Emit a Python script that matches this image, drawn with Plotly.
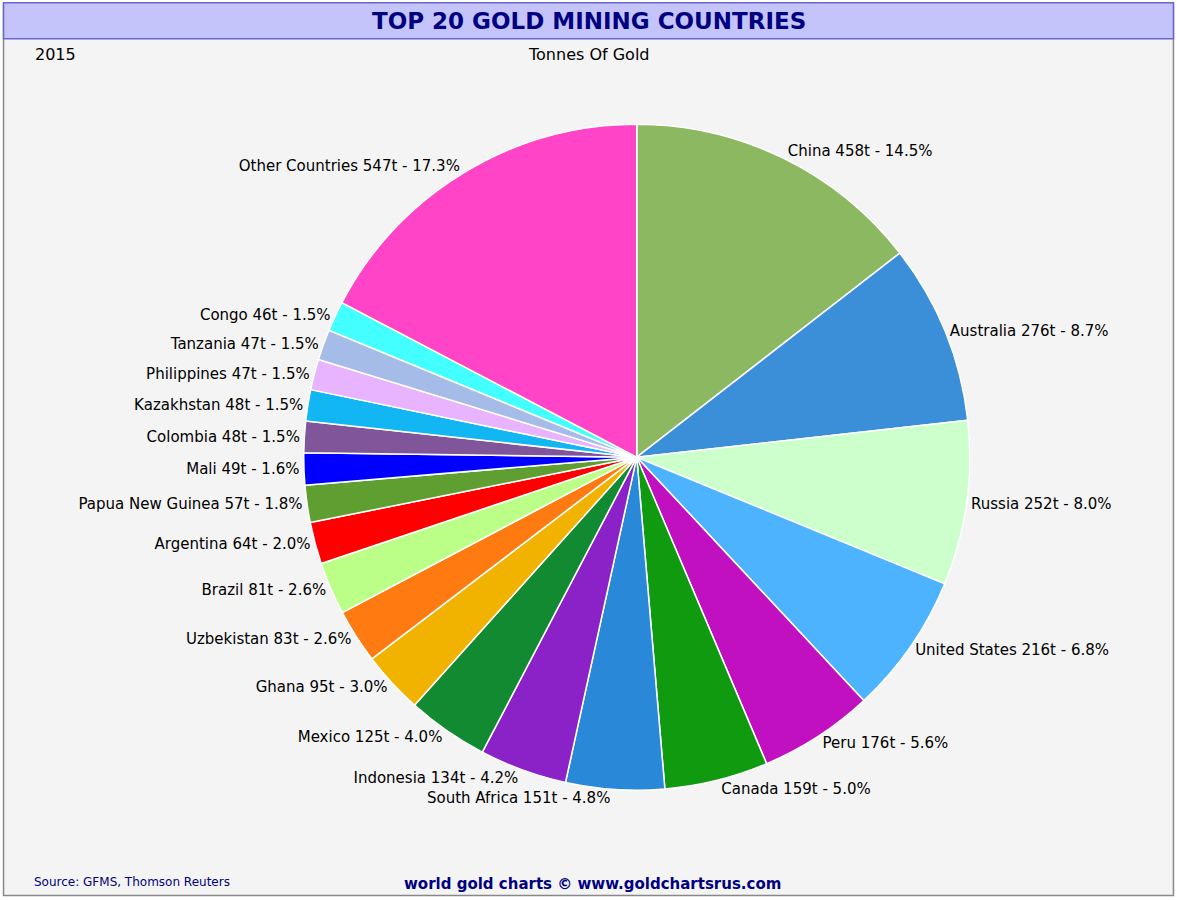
import plotly.graph_objects as go

countries = ["China", "Australia", "Russia", "United States", "Peru", "Canada",
             "South Africa", "Indonesia", "Mexico", "Ghana", "Uzbekistan", "Brazil",
             "Argentina", "Papua New Guinea", "Mali", "Colombia", "Kazakhstan",
             "Philippines", "Tanzania", "Congo", "Other Countries"]
tonnes = [458, 276, 252, 216, 176, 159, 151, 134, 125, 95, 83, 81,
          64, 57, 49, 48, 48, 47, 47, 46, 547]
percents = [14.5, 8.7, 8.0, 6.8, 5.6, 5.0, 4.8, 4.2, 4.0, 3.0, 2.6, 2.6,
            2.0, 1.8, 1.6, 1.5, 1.5, 1.5, 1.5, 1.5, 17.3]
colors = ["#8db862", "#3a8fd8", "#ccffcc", "#4db3ff", "#c010c0", "#109a10",
          "#2a88d8", "#8a22c8", "#128a32", "#f2b200", "#ff7a10", "#bbff88",
          "#ff0000", "#5f9f32", "#0000ff", "#80559a", "#12b6f2", "#e8b4ff",
          "#a6bce8", "#44ffff", "#ff44c8"]

labels = [f"{c} {t}t - {p:.1f}%" for c, t, p in zip(countries, tonnes, percents)]

fig = go.Figure(go.Pie(
    labels=countries, values=tonnes, text=labels, textinfo="text",
    textposition="outside", sort=False, direction="clockwise", rotation=0,
    marker=dict(colors=colors, line=dict(color="white", width=1.5)),
    textfont=dict(family="DejaVu Sans", size=15, color="black"),
    outsidetextfont=dict(family="DejaVu Sans", size=15, color="black"),
    showlegend=False, hoverinfo="label+value",
    domain=dict(x=[0.258, 0.824], y=[0.122, 0.862]),
))

fig.update_layout(
    width=1177, height=900, margin=dict(l=0, r=0, t=0, b=0),
    paper_bgcolor="white",
    shapes=[
        dict(type="rect", xref="paper", yref="paper", x0=0.003, x1=0.997, y0=0.005, y1=0.995,
             fillcolor="#f4f4f4", line=dict(color="#888888", width=1.5), layer="below"),
        dict(type="rect", xref="paper", yref="paper", x0=0.003, x1=0.997, y0=0.957, y1=0.997,
             fillcolor="#c4c4fa", line=dict(color="#6666cc", width=1.5), layer="below"),
    ],
    annotations=[
        dict(text="<b>TOP 20 GOLD MINING COUNTRIES</b>", x=0.5, y=0.977, xref="paper", yref="paper",
             xanchor="center", yanchor="middle",
             showarrow=False, font=dict(family="DejaVu Sans", size=23, color="#000080")),
        dict(text="2015", x=0.028, y=0.939, xref="paper", yref="paper", xanchor="left",
             yanchor="middle", showarrow=False, font=dict(family="DejaVu Sans", size=16, color="black")),
        dict(text="Tonnes Of Gold", x=0.5, y=0.939, xref="paper", yref="paper",
             xanchor="center", yanchor="middle",
             showarrow=False, font=dict(family="DejaVu Sans", size=16, color="black")),
        dict(text="Source: GFMS, Thomson Reuters", x=0.027, y=0.02, xref="paper", yref="paper",
             xanchor="left", yanchor="middle", showarrow=False,
             font=dict(family="DejaVu Sans", size=12, color="#000080")),
        dict(text="<b>world gold charts © www.goldchartsrus.com</b>", x=0.503, y=0.018, xref="paper",
             yref="paper", xanchor="center", yanchor="middle", showarrow=False,
             font=dict(family="DejaVu Sans", size=15, color="#000080")),
    ],
)

fig.write_html("out.html", config={"displayModeBar": False},
               post_script="document.body.style.margin='0';")
